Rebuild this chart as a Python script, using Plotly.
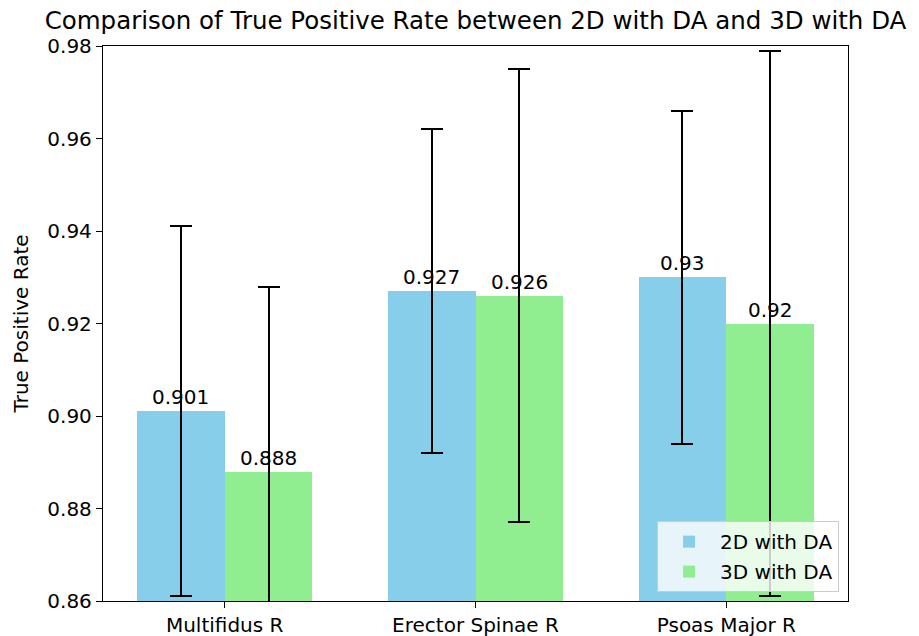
import plotly.graph_objects as go

categories = ["Multifidus R", "Erector Spinae R", "Psoas Major R"]
tpr_2d = [0.901, 0.927, 0.93]
tpr_3d = [0.888, 0.926, 0.92]
err_2d = [0.040, 0.035, 0.036]
err_3d = [0.040, 0.049, 0.059]
series_names = ["2D with DA", "3D with DA"]
y_ticks = [0.86, 0.88, 0.90, 0.92, 0.94, 0.96, 0.98]

bar_w = 0.35
pos = list(range(len(categories)))
x2d = [p - bar_w / 2 for p in pos]
x3d = [p + bar_w / 2 for p in pos]

FONT = "DejaVu Sans"
FS = 20

fig = go.Figure()
for i, (xs, ys, es, name, color) in enumerate([
    (x2d, tpr_2d, err_2d, series_names[0], "#87CEEB"),
    (x3d, tpr_3d, err_3d, series_names[1], "#90EE90"),
]):
    fig.add_trace(go.Bar(
        x=xs, y=ys, width=bar_w, name=name, legendgroup=f"g{i}",
        marker=dict(color=color, line=dict(width=0)),
        error_y=dict(type="data", array=es, visible=True,
                     color="black", thickness=2, width=11),
    ))

annotations = []
for xs, ys in [(x2d, tpr_2d), (x3d, tpr_3d)]:
    for x, y in zip(xs, ys):
        annotations.append(dict(
            x=x, y=y, text=str(y), showarrow=False,
            xanchor="center", yanchor="bottom", yshift=0,
            font=dict(family=FONT, size=FS, color="black"),
        ))

fig.update_layout(
    width=919, height=636,
    margin=dict(l=103, r=71, t=46, b=35, autoexpand=False),
    paper_bgcolor="white", plot_bgcolor="white",
    font=dict(family=FONT, size=FS, color="black"),
    title=dict(text="Comparison of True Positive Rate between 2D with DA and 3D with DA",
               x=(103 + 848) / 2 / 919, xanchor="center",
               y=1 - 20 / 636, yanchor="middle",
               font=dict(family=FONT, size=24.5, color="black")),
    showlegend=True,
    legend=dict(x=0.988, y=0.016, xanchor="right", yanchor="bottom",
                bgcolor="rgba(255,255,255,0.8)", bordercolor="#cccccc",
                borderwidth=1, font=dict(family=FONT, size=FS),
                itemsizing="constant", itemwidth=52, tracegroupgap=1),
    annotations=annotations,
    bargap=0,
)
fig.update_xaxes(
    range=[-0.485, 2.485], tickmode="array", tickvals=pos, ticktext=categories,
    showline=True, linecolor="black", linewidth=1.3, mirror=True,
    ticks="outside", ticklen=6, tickcolor="black", showgrid=False, zeroline=False,
    tickfont=dict(family=FONT, size=FS), automargin=False,
)
fig.update_yaxes(
    range=[0.86, 0.98], tickmode="array", tickvals=y_ticks, tickformat=".2f",
    showline=True, linecolor="black", linewidth=1.3, mirror=True,
    ticks="outside", ticklen=6, tickcolor="black", showgrid=False, zeroline=False,
    tickfont=dict(family=FONT, size=FS), automargin=False,
    title=dict(text="True Positive Rate", standoff=13, font=dict(family=FONT, size=FS)),
)

fig.write_html("out.html", config={"displayModeBar": False},
               post_script="document.body.style.margin='0';")
